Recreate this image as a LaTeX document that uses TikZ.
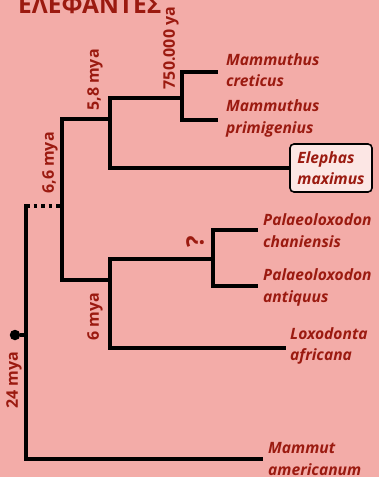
\documentclass[tikz,border=0pt]{standalone}
\usepackage{fontspec}
\setmainfont{Open Sans}
\definecolor{bgpink}{RGB}{243,172,168}
\definecolor{txtred}{RGB}{155,26,16}
\definecolor{boxfill}{RGB}{252,230,228}
\tikzset{
  branch/.style={line width=3.5pt, line cap=rect},
  taxon/.style={anchor=west, align=left, inner sep=0pt, text=txtred,
    font=\fontsize{15.6}{21.5}\selectfont\bfseries\itshape},
  agelabel/.style={rotate=90, inner sep=0pt, text=txtred,
    font=\fontsize{16}{18}\selectfont\bfseries},
}
\begin{document}
\begin{tikzpicture}[x=1pt,y=-1pt]
\fill[bgpink] (0,0) rectangle (379,477);
\useasboundingbox (0,0) rectangle (379,477);

% title (cut at the top edge, as in the reference)
\node[anchor=base west, inner sep=0pt, text=txtred,
  font=\fontsize{24.5}{26}\selectfont\bfseries] (title) at (18,13) {ΕΛΕΦΑΝΤΕΣ};

% taxa
\node[taxon] (cret) at (226,70) {Mammuthus\\creticus};
\node[taxon] (prim) at (226,118.5) {Mammuthus\\primigenius};
\node[draw=black, line width=1.6pt, rounded corners=4pt, fill=boxfill,
  minimum width=82pt, minimum height=48pt, align=left, inner sep=0pt,
  text=txtred, font=\fontsize{15.6}{21.5}\selectfont\bfseries\itshape]
  (elep) at (331,168) {Elephas\\maximus};
\node[taxon] (chan) at (263,230.5) {Palaeoloxodon\\chaniensis};
\node[taxon] (anti) at (263,287.5) {Palaeoloxodon\\antiquus};
\node[taxon] (loxo) at (290,346) {Loxodonta\\africana};
\node[taxon] (mamm) at (268,459) {Mammut\\americanum};

% tip coordinates
\coordinate (tcret) at (216,72);
\coordinate (tprim) at (216,120);
\coordinate (tchan) at (256,230);
\coordinate (tanti) at (256,286);
\coordinate (tloxo) at (284,348);
\coordinate (tmamm) at (261,459);

% internal nodes
\coordinate (nMam) at (182,98);
\coordinate (nEle) at (110,119);
\coordinate (nPal) at (213,259);
\coordinate (nLox) at (110,280);
\coordinate (nRoot) at (62,206);
\coordinate (nTop) at (26,206);

% branches
\draw[branch] (tcret) -| (nMam) |- (tprim);
\draw[branch] (nMam) -| (nEle) |- (elep.west);
\draw[branch] (tchan) -| (nPal) |- (tanti);
\draw[branch] (nPal) -| (nLox) |- (tloxo);
\draw[branch] (nEle) -| (nRoot) |- (nLox);
\draw[branch, line cap=butt, dash pattern=on 3.5pt off 4pt] (nTop) -- (nRoot);
\draw[branch] (nTop) |- (tmamm);

% root marker
\coordinate (mk) at (26,335);
\node[circle, fill=black, inner sep=0pt, minimum size=10.5pt] (dot) at (15,335) {};
\draw[line width=3.5pt] (dot) -- (mk);

% age labels
\node[agelabel] (a58) at (95,80) {5,8 mya};
\node[agelabel] (a750) at (171,48) {750.000 ya};
\node[agelabel] (a66) at (50,163) {6,6 mya};
\node[agelabel] (a6) at (95,317) {6 mya};
\node[agelabel] (a24) at (14,380) {24 mya};
\node[rotate=90, inner sep=0pt, text=txtred,
  font=\fontsize{24}{26}\selectfont\bfseries] (q) at (195,242) {?};
\end{tikzpicture}
\end{document}
